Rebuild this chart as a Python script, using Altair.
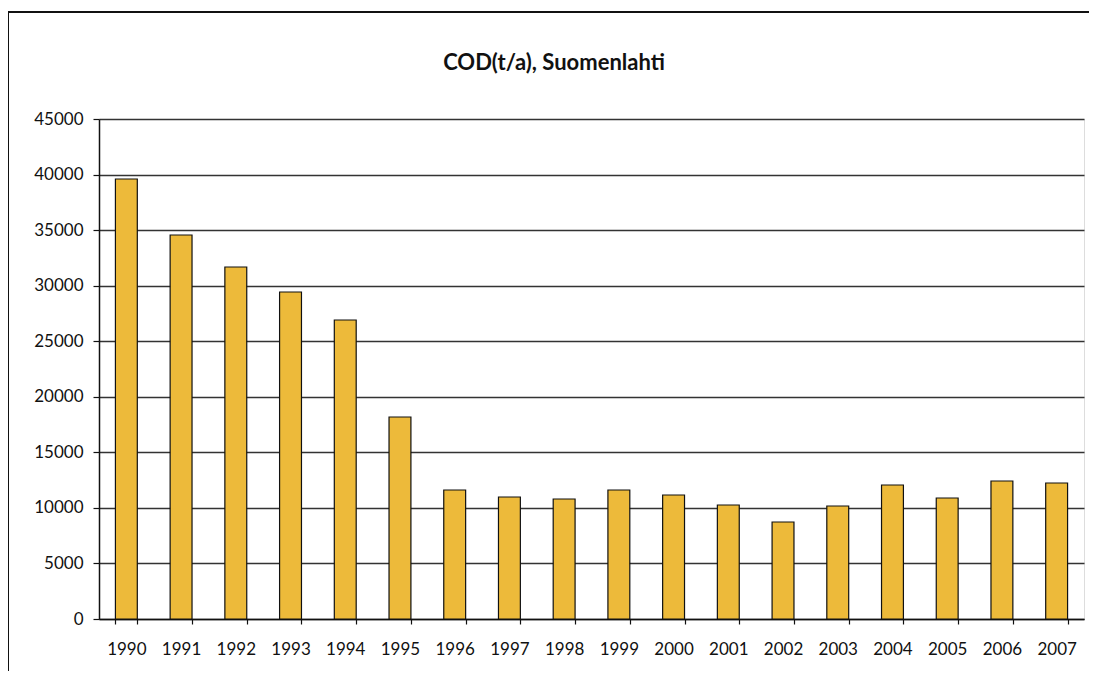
import altair as alt
import pandas as pd

years = ["1990", "1991", "1992", "1993", "1994", "1995", "1996", "1997", "1998",
         "1999", "2000", "2001", "2002", "2003", "2004", "2005", "2006", "2007"]
cod = [39600, 34560, 31680, 29430, 26910, 18180, 11610, 10980, 10800,
       11610, 11160, 10260, 8730, 10170, 12060, 10890, 12420, 12240]
title_text = ["COD(t/a), Suomenlahti"]

df = pd.DataFrame({"year": years, "cod": cod})

FONT = "Lato"

bars = alt.Chart(df).mark_bar(
    color="#EDBA3A", stroke="#111111", strokeWidth=1.2
).encode(
    x=alt.X("year:N", sort=years,
            scale=alt.Scale(paddingInner=0.6, paddingOuter=0.3),
            axis=alt.Axis(title=None, labelAngle=0, tickBand="extent",
                          tickSize=5, labelPadding=17, labelFontSize=17,
                          labelFont=FONT, labelColor="#111111",
                          domainColor="#111111", tickColor="#111111",
                          domainWidth=1.5, tickWidth=1.2, grid=False)),
    y=alt.Y("cod:Q",
            scale=alt.Scale(domain=[0, 45000], nice=False),
            axis=alt.Axis(title=None, values=list(range(0, 45001, 5000)),
                          format="d", tickSize=6, labelPadding=10,
                          labelFontSize=17, labelFont=FONT,
                          labelColor="#111111", domainColor="#111111",
                          tickColor="#111111", domainWidth=1.5, tickWidth=1.2,
                          grid=True, gridColor="#333333", gridWidth=1.3))
)

title_df = pd.DataFrame({"t": title_text})
title = alt.Chart(title_df).mark_text(
    font=FONT, fontSize=22, fontWeight="bold", color="#111111",
    align="center", baseline="middle"
).encode(text="t:N", x=alt.value(455), y=alt.value(-56))

frame_df = pd.DataFrame({"a": [0]})
left_rule = alt.Chart(frame_df).mark_rule(color="#111111", strokeWidth=2).encode(
    x=alt.value(-91), y=alt.value(-107), y2=alt.value(610))
top_rule = alt.Chart(frame_df).mark_rule(color="#111111", strokeWidth=2).encode(
    x=alt.value(-91), x2=alt.value(1010), y=alt.value(-107))

chart = alt.layer(bars, title, left_rule, top_rule).properties(
    width=985, height=500,
    autosize=alt.AutoSizeParams(type="none"),
    padding={"left": 91, "top": 111, "right": 5, "bottom": 52},
).configure_view(stroke="#111111", strokeWidth=1.5).configure(background="white")

chart.save("out.html", embed_options={"renderer": "svg", "actions": False})
